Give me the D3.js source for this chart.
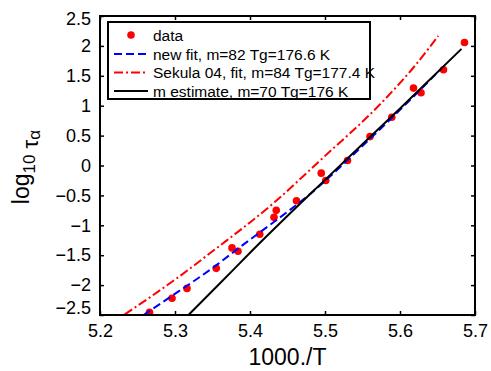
<!DOCTYPE html>
<html>
<head>
<meta charset="utf-8">
<script src="https://cdn.jsdelivr.net/npm/d3@7"></script>
<style>
  body { margin: 0; background: #fff; }
  svg { font-family: "Liberation Sans", Arial, sans-serif; }
</style>
</head>
<body>
<script>
// measured points
const invT = [5.266, 5.296, 5.316, 5.355, 5.376, 5.384, 5.413, 5.432, 5.435, 5.462,
  5.495, 5.501, 5.53, 5.56, 5.589, 5.618, 5.628, 5.658, 5.686];
const logTau = [-2.455, -2.22, -2.055, -1.72, -1.378, -1.433, -1.15, -0.867, -0.75, -0.589,
  -0.128, -0.25, 0.083, 0.483, 0.806, 1.294, 1.217, 1.6, 2.056];

// fit curves
const newFitX = [5.258, 5.296, 5.358, 5.384, 5.413, 5.491, 5.53, 5.6, 5.655];
const newFitY = [-2.5, -2.18, -1.64, -1.39, -1.12, -0.36, 0.09, 0.93, 1.62];
const sekulaX = [5.233, 5.302, 5.353, 5.433, 5.491, 5.578, 5.618, 5.651];
const sekulaY = [-2.49, -1.89, -1.406, -0.611, 0.056, 1.083, 1.639, 2.167];
const mEstX = [5.318, 5.36, 5.404, 5.5, 5.599, 5.682];
const mEstY = [-2.5, -1.97, -1.41, -0.24, 0.94, 1.95];

const xTicks = [5.2, 5.3, 5.4, 5.5, 5.6, 5.7];
const xTickLabels = ["5.2", "5.3", "5.4", "5.5", "5.6", "5.7"];
const yTicks = [-2.5, -2, -1.5, -1, -0.5, 0, 0.5, 1, 1.5, 2, 2.5];
const yTickLabels = ["\u22122.5", "\u22122", "\u22121.5", "\u22121", "\u22120.5", "0", "0.5", "1", "1.5", "2", "2.5"];

const legendLabels = ["data", "new fit, m=82 Tg=176.6 K", "Sekula 04, fit, m=84 Tg=177.4 K", "m estimate, m=70 Tg=176 K"];

const width = 491, height = 371;
const pLeft = 100, pRight = 475, pTop = 16, pBottom = 315;

const x = d3.scaleLinear().domain([5.2, 5.7]).range([pLeft, pRight]);
const y = d3.scaleLinear().domain([-2.5, 2.5]).range([pBottom, pTop]);

const svg = d3.select("body").append("svg")
  .attr("width", width)
  .attr("height", height);

svg.append("defs").append("clipPath")
  .attr("id", "plot-clip")
  .append("rect")
  .attr("x", pLeft).attr("y", pTop)
  .attr("width", pRight - pLeft).attr("height", pBottom - pTop);

// axes, ticks pointing inwards
function styleAxis(g) {
  g.select(".domain").remove();
  g.selectAll(".tick line").attr("stroke", "#000").attr("stroke-width", 1.5);
  g.selectAll(".tick text").attr("fill", "#000").style("font-size", "18px");
}

svg.append("g")
  .attr("transform", `translate(0,${pBottom})`)
  .call(d3.axisBottom(x).tickValues(xTicks).tickFormat((d, i) => xTickLabels[i])
    .tickSizeInner(-4).tickSizeOuter(0).tickPadding(9))
  .call(styleAxis);

svg.append("g")
  .attr("transform", `translate(0,${pTop})`)
  .call(d3.axisTop(x).tickValues(xTicks).tickFormat("")
    .tickSizeInner(-4).tickSizeOuter(0))
  .call(styleAxis);

const yAxis = svg.append("g")
  .attr("transform", `translate(${pLeft},0)`)
  .call(d3.axisLeft(y).tickValues(yTicks).tickFormat((d, i) => yTickLabels[i])
    .tickSizeInner(-4).tickSizeOuter(0).tickPadding(9))
  .call(styleAxis);

// matlab nudges the end labels inside
yAxis.selectAll(".tick text")
  .attr("y", (d, i) => i === 0 ? -7 : (i === yTicks.length - 1 ? 3 : 0));

svg.append("g")
  .attr("transform", `translate(${pRight},0)`)
  .call(d3.axisRight(y).tickValues(yTicks).tickFormat("")
    .tickSizeInner(-4).tickSizeOuter(0))
  .call(styleAxis);

const plot = svg.append("g").attr("clip-path", "url(#plot-clip)");

plot.append("g")
  .selectAll("circle")
  .data(invT)
  .join("circle")
  .attr("cx", d => x(d))
  .attr("cy", (d, i) => y(logTau[i]))
  .attr("r", 3.8)
  .attr("fill", "#ff0000");

const line = d3.line()
  .x(d => x(d[0]))
  .y(d => y(d[1]))
  .curve(d3.curveMonotoneX);

const curves = [
  { xs: newFitX, ys: newFitY, stroke: "#0000ff", dash: "8,4" },
  { xs: sekulaX, ys: sekulaY, stroke: "#ff0000", dash: "9,3,2,3" },
  { xs: mEstX, ys: mEstY, stroke: "#000000", dash: null }
];

plot.selectAll("path.fit")
  .data(curves)
  .join("path")
  .attr("class", "fit")
  .attr("fill", "none")
  .attr("stroke", d => d.stroke)
  .attr("stroke-width", 2)
  .attr("stroke-dasharray", d => d.dash)
  .attr("d", d => line(d.xs.map((v, i) => [v, d.ys[i]])));

// frame
svg.append("rect")
  .attr("x", pLeft).attr("y", pTop)
  .attr("width", pRight - pLeft).attr("height", pBottom - pTop)
  .attr("fill", "none")
  .attr("stroke", "#000")
  .attr("stroke-width", 2);

// legend
const legend = svg.append("g");
legend.append("rect")
  .attr("x", 108).attr("y", 22)
  .attr("width", 262).attr("height", 77)
  .attr("fill", "#fff")
  .attr("stroke", "#000")
  .attr("stroke-width", 2);

const rowY = [35, 54, 72.5, 91];
legend.append("circle")
  .attr("cx", 131).attr("cy", rowY[0])
  .attr("r", 3.8).attr("fill", "#ff0000");

curves.forEach((c, i) => {
  legend.append("line")
    .attr("x1", 114).attr("x2", 148)
    .attr("y1", rowY[i + 1]).attr("y2", rowY[i + 1])
    .attr("stroke", c.stroke)
    .attr("stroke-width", 2)
    .attr("stroke-dasharray", c.dash);
});

legend.selectAll("text")
  .data(legendLabels)
  .join("text")
  .attr("x", 153)
  .attr("y", (d, i) => rowY[i])
  .attr("dy", "0.36em")
  .style("font-size", "15.5px")
  .text(d => d);

// axis labels
svg.append("text")
  .attr("x", (pLeft + pRight) / 2)
  .attr("y", 365)
  .attr("text-anchor", "middle")
  .style("font-size", "23px")
  .text("1000./T");

// tau sits low in the matlab tex rendering
const ylab = svg.append("text")
  .attr("transform", "translate(29,167) rotate(-90)")
  .attr("text-anchor", "middle")
  .style("font-size", "23px");
ylab.append("tspan").text("log");
ylab.append("tspan").attr("dy", 6).style("font-size", "17px").text("10");
ylab.append("tspan").attr("dy", 3).style("font-size", "22px").text(" \u03c4");
ylab.append("tspan").attr("dy", 2).style("font-size", "17px").text("\u03b1");
</script>
</body>
</html>
